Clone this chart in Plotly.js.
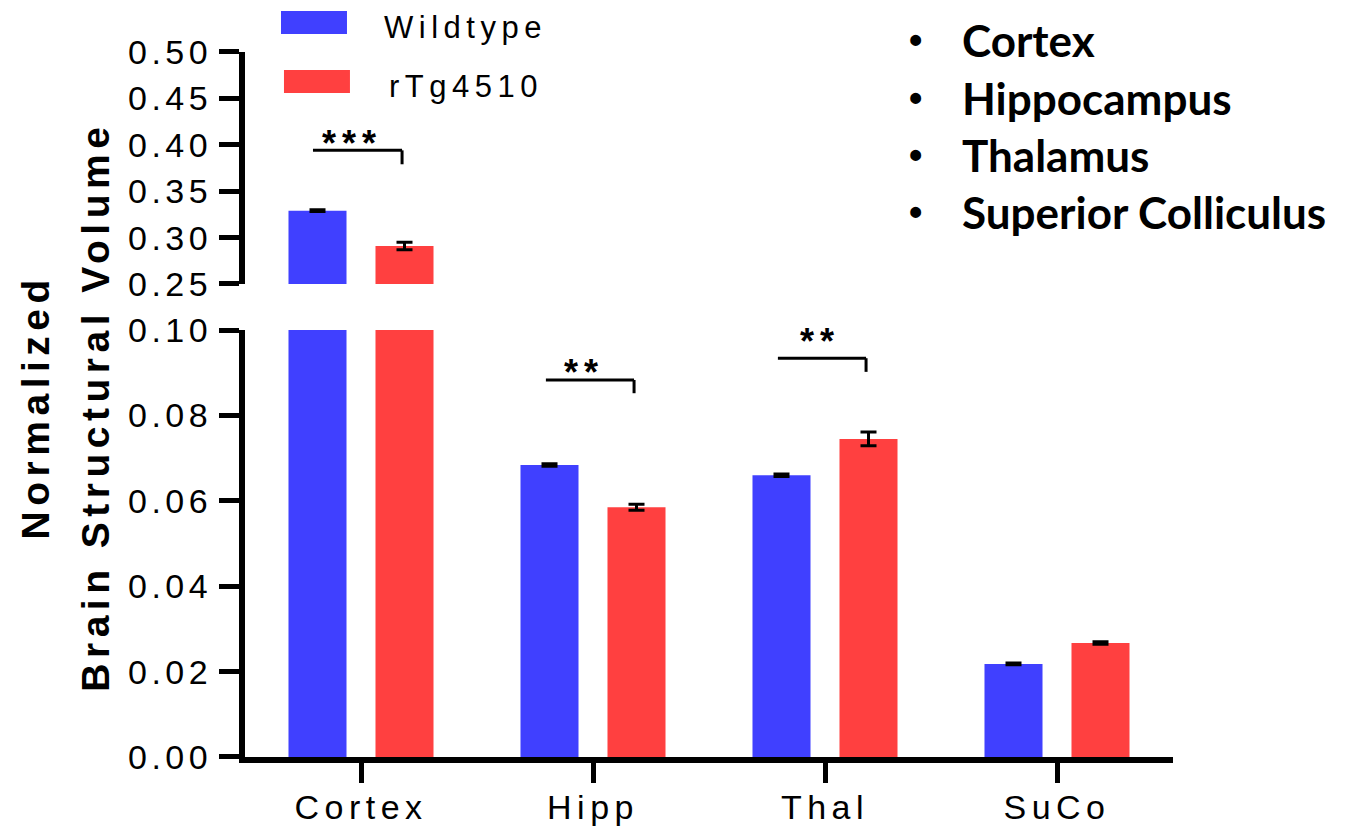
<!DOCTYPE html>
<html>
<head>
<meta charset="utf-8">
<script src="https://cdn.plot.ly/plotly-3.0.1.min.js"></script>
<style>
  html, body { margin: 0; padding: 0; background: #ffffff; }
  #chart { width: 1359px; height: 829px; }
</style>
</head>
<body>
<div id="chart"></div>
<script>
// Brain regions on the x axis
const categories = ['Cortex', 'Hipp', 'Thal', 'SuCo'];

// Normalized structural volume per region (mean and SEM)
const wildtype = [0.329, 0.0684, 0.0660, 0.0218];
const wildtypeErr = [0.001, 0.0003, 0.0003, 0.0002];
const rtg4510 = [0.291, 0.0585, 0.0745, 0.0267];
const rtg4510Err = [0.004, 0.0007, 0.0016, 0.0003];

const seriesNames = ['Wildtype', 'rTg4510'];
const seriesColors = ['#4040ff', '#ff4040'];

// Broken y axis: lower and upper segments
const lowerTicks = [0.00, 0.02, 0.04, 0.06, 0.08, 0.10];
const upperTicks = [0.25, 0.30, 0.35, 0.40, 0.45, 0.50];

// Significance marks
const sigLabels = ['***', '**', '**'];

// Region list in the top right corner
const regions = ['Cortex', 'Hippocampus', 'Thalamus', 'Superior Colliculus'];

const AXIS_FONT = 'Liberation Sans, Arial, sans-serif';
const spaced = (s, px) => '<span style="letter-spacing:' + px + 'px">' + s + '</span>';

function barTrace(values, errs, idx, yaxis) {
  return {
    type: 'bar',
    x: categories,
    y: values,
    yaxis: yaxis,
    name: seriesNames[idx],
    marker: { color: seriesColors[idx], line: { width: 0 } },
    error_y: { type: 'data', array: errs, visible: true, color: '#000000', thickness: 3, width: 8 },
    showlegend: false,
    hoverinfo: 'skip'
  };
}

const traces = [
  barTrace(wildtype, wildtypeErr, 0, 'y'),
  barTrace(rtg4510, rtg4510Err, 1, 'y'),
  barTrace(wildtype, wildtypeErr, 0, 'y2'),
  barTrace(rtg4510, rtg4510Err, 1, 'y2')
];

const axisCommon = {
  showline: true, linewidth: 6, linecolor: '#000000',
  ticks: 'outside', ticklen: 20, tickwidth: 5, tickcolor: '#000000',
  showgrid: false, zeroline: false, fixedrange: true,
  tickfont: { family: AXIS_FONT, size: 34, color: '#000000' }
};

const bracket = (yref, xl, xr, yTop, yBottom) => ([
  { type: 'line', xref: 'x', yref: yref, x0: xl, x1: xr, y0: yTop, y1: yTop,
    line: { color: '#000000', width: 3 } },
  { type: 'line', xref: 'x', yref: yref, x0: xr, x1: xr, y0: yTop, y1: yBottom,
    line: { color: '#000000', width: 3 } }
]);

const shapes = [
  ...bracket('y2', -0.207, 0.177, 0.394, 0.379),
  ...bracket('y', 0.797, 1.177, 0.0883, 0.0852),
  ...bracket('y', 1.797, 2.177, 0.0934, 0.0902),
  // legend swatches
  { type: 'rect', xref: 'paper', yref: 'paper', x0: 0.0388, x1: 0.1099, y0: 1.0084, y1: 1.0405,
    fillcolor: seriesColors[0], line: { width: 0 } },
  { type: 'rect', xref: 'paper', yref: 'paper', x0: 0.0420, x1: 0.1131, y0: 0.9261, y1: 0.9582,
    fillcolor: seriesColors[1], line: { width: 0 } }
];

const starFont = { family: AXIS_FONT, size: 36, color: '#000000', weight: 'bold' };

const annotations = [
  // y axis title, two lines
  { xref: 'paper', yref: 'paper', x: -0.226, y: 0.488, textangle: -90, showarrow: false,
    xanchor: 'center', yanchor: 'middle',
    text: spaced('Normalized', 5.5),
    font: { family: AXIS_FONT, size: 39, color: '#000000', weight: 'bold' } },
  { xref: 'paper', yref: 'paper', x: -0.161, y: 0.488, textangle: -90, showarrow: false,
    xanchor: 'center', yanchor: 'middle',
    text: spaced('Brain Structural Volume', 5.5),
    font: { family: AXIS_FONT, size: 39, color: '#000000', weight: 'bold' } },
  // legend labels
  { xref: 'paper', yref: 'paper', x: 0.1480, y: 1.0180, xanchor: 'left', yanchor: 'middle',
    showarrow: false, text: spaced(seriesNames[0], 5.5),
    font: { family: AXIS_FONT, size: 31, color: '#000000' } },
  { xref: 'paper', yref: 'paper', x: 0.1535, y: 0.9350, xanchor: 'left', yanchor: 'middle',
    showarrow: false, text: spaced(seriesNames[1], 5.5),
    font: { family: AXIS_FONT, size: 31, color: '#000000' } },
  // significance stars
  { xref: 'x', yref: 'y2', x: -0.040, y: 0.401, showarrow: false, xanchor: 'center', yanchor: 'middle',
    text: spaced(sigLabels[0], 6), font: starFont },
  { xref: 'x', yref: 'y', x: 0.960, y: 0.0900, showarrow: false, xanchor: 'center', yanchor: 'middle',
    text: spaced(sigLabels[1], 6), font: starFont },
  { xref: 'x', yref: 'y', x: 1.977, y: 0.0973, showarrow: false, xanchor: 'center', yanchor: 'middle',
    text: spaced(sigLabels[2], 6), font: starFont }
];

// bulleted region list
const listY = [1.000, 0.919, 0.8396, 0.760];
regions.forEach((r, i) => {
  annotations.push({ xref: 'paper', yref: 'paper', x: 0.7220, y: listY[i], xanchor: 'center', yanchor: 'middle',
    showarrow: false, text: '\u2022', font: { family: AXIS_FONT, size: 38, color: '#000000', weight: 'bold' } });
  annotations.push({ xref: 'paper', yref: 'paper', x: 0.7710, y: listY[i], xanchor: 'left', yanchor: 'middle',
    showarrow: false, text: r, font: { family: 'Lato, sans-serif', size: 44, color: '#000000', weight: 'bold' } });
});

const layout = {
  width: 1359, height: 829,
  margin: { l: 245, r: 186, t: 40, b: 72 },
  paper_bgcolor: '#ffffff', plot_bgcolor: '#ffffff',
  barmode: 'group', bargap: 0.25, bargroupgap: 0.333,
  showlegend: false,
  xaxis: Object.assign({}, axisCommon, {
    type: 'category', range: [-0.5, 3.5], anchor: 'y',
    ticklabelstandoff: -5,
    tickmode: 'array', tickvals: categories, ticktext: categories.map(c => spaced(c, 5.5))
  }),
  yaxis: Object.assign({}, axisCommon, {
    domain: [0, 0.5955], range: [0, 0.10], anchor: 'x',
    tickmode: 'array', tickvals: lowerTicks, ticktext: lowerTicks.map(v => spaced(v.toFixed(2), 4.5))
  }),
  yaxis2: Object.assign({}, axisCommon, {
    domain: [0.6597, 0.9833], range: [0.25, 0.50], anchor: 'x',
    tickmode: 'array', tickvals: upperTicks, ticktext: upperTicks.map(v => spaced(v.toFixed(2), 4.5))
  }),
  shapes: shapes,
  annotations: annotations
};

Plotly.newPlot('chart', traces, layout, { staticPlot: true, displayModeBar: false });
</script>
</body>
</html>
